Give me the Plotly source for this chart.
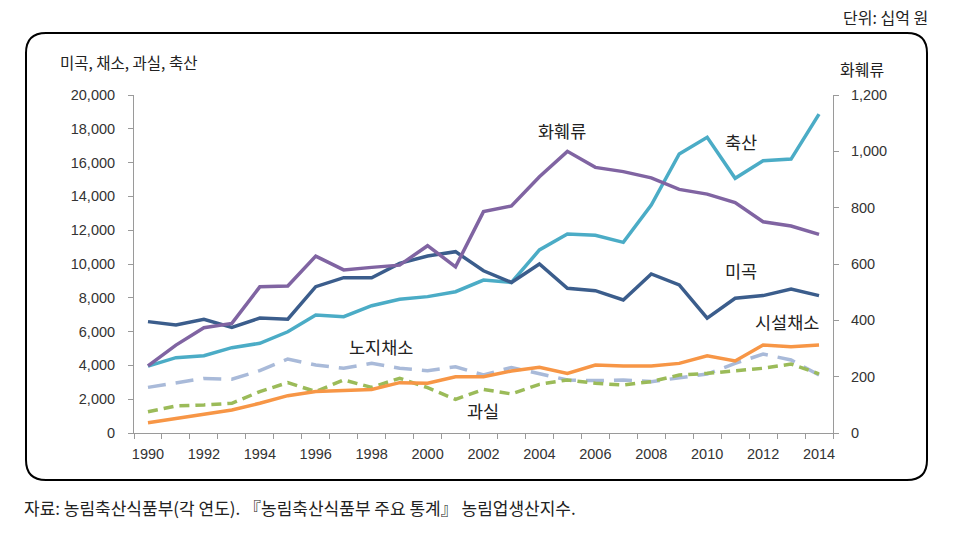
import plotly.graph_objects as go

years = list(range(1990, 2015))
rice = [6590, 6390, 6730, 6250, 6800, 6730, 8660, 9190, 9190, 10040, 10470, 10730, 9600, 8910,
        10000, 8560, 8420, 7870, 9410, 8760, 6790, 7970, 8130, 8520, 8130]
livestock = [3960, 4460, 4570, 5050, 5310, 5990, 6980, 6880, 7530, 7910, 8070, 8360, 9050, 8910,
             10830, 11780, 11700, 11280, 13490, 16510, 17500, 15070, 16110, 16210, 18870]
flowers = [238, 312, 374, 389, 519, 522, 628, 579, 588, 596, 665, 590, 786, 806,
           910, 1000, 943, 928, 906, 865, 848, 818, 750, 735, 705]
open_veg = [2700, 2940, 3230, 3180, 3690, 4380, 4020, 3830, 4120, 3830, 3690, 3920, 3430, 3880,
            3530, 3140, 3100, 3140, 3040, 3240, 3490, 4120, 4670, 4320, 3430]
green_veg = [610, 870, 1100, 1360, 1760, 2210, 2450, 2540, 2580, 2980, 2940, 3330, 3330, 3670,
             3890, 3530, 4020, 3960, 3960, 4120, 4570, 4260, 5210, 5110, 5210]
fruit = [1260, 1600, 1660, 1760, 2450, 2980, 2450, 3140, 2700, 3240, 2680, 1990, 2580, 2310,
         2880, 3140, 2940, 2840, 3040, 3430, 3530, 3690, 3830, 4080, 3500]

left_ticks = list(range(0, 20001, 2000))
right_ticks = list(range(0, 1201, 200))
x_labels = list(range(1990, 2015, 2))

font = "Noto Sans CJK KR"
num_font = dict(family="Liberation Sans", size=14.5, color="#333333")
fig = go.Figure()

def add(y, color, dash="solid", axis="y"):
    fig.add_trace(go.Scatter(x=years, y=y, mode="lines", yaxis=axis,
                             line=dict(color=color, width=3.5, dash=dash), showlegend=False))

add(open_veg, "#A9BAD9", dash="18px,10px")
add(fruit, "#9BBB59", dash="10px,6px")
add(green_veg, "#F79646")
add(livestock, "#4BACC6")
add(rice, "#3B5D8C")
add(flowers, "#8064A2", axis="y2")

L, R, T, B = 134, 833, 95, 433
W, H = 968, 546

fig.update_layout(
    width=W, height=H,
    margin=dict(l=L, r=W - R, t=T, b=H - B),
    paper_bgcolor="white", plot_bgcolor="white",
    font=dict(family=font, size=13, color="#333333"),
    xaxis=dict(range=[1989.5, 2014.5], tickvals=x_labels, ticktext=[str(v) for v in x_labels],
               ticks="", showgrid=False, showline=True, linecolor="#9a9a9a", linewidth=1,
               zeroline=False, tickfont=num_font, ticklabelstandoff=8,
               minor=dict(tickvals=[1989.5 + i for i in range(26)], ticks="outside",
                          ticklen=5, tickcolor="#9a9a9a", showgrid=False)),
    yaxis=dict(range=[0, 20000], tickvals=left_ticks, tickformat=",", ticks="outside",
               ticklen=5, tickcolor="#9a9a9a", showgrid=False, showline=True,
               linecolor="#9a9a9a", zeroline=False, tickfont=num_font, ticklabelstandoff=10),
    yaxis2=dict(range=[0, 1200], tickvals=right_ticks, tickformat=",", overlaying="y",
                side="right", ticks="outside", ticklen=5, tickcolor="#9a9a9a", showgrid=False,
                showline=True, linecolor="#9a9a9a", zeroline=False,
                tickfont=num_font, ticklabelstandoff=9),
)

def px(x):
    return (x - L) / (R - L)

def py(y):
    return (B - y) / (B - T)

# rounded border box
x0, x1, y0, y1, r = 26, 927, 33, 480, 20
pts = [
    f"M {px(x0 + r)},{py(y0)}",
    f"L {px(x1 - r)},{py(y0)}",
    f"Q {px(x1)},{py(y0)} {px(x1)},{py(y0 + r)}",
    f"L {px(x1)},{py(y1 - r)}",
    f"Q {px(x1)},{py(y1)} {px(x1 - r)},{py(y1)}",
    f"L {px(x0 + r)},{py(y1)}",
    f"Q {px(x0)},{py(y1)} {px(x0)},{py(y1 - r)}",
    f"L {px(x0)},{py(y0 + r)}",
    f"Q {px(x0)},{py(y0)} {px(x0 + r)},{py(y0)} Z",
]
fig.add_shape(type="path", xref="paper", yref="paper", path=" ".join(pts),
              line=dict(color="black", width=2), layer="below")

def text(x, y, s, size=14, anchor="center"):
    fig.add_annotation(x=px(x), y=py(y), xref="paper", yref="paper", text=s, showarrow=False,
                       xanchor=anchor, yanchor="middle", font=dict(family=font, size=size, color="#222222"))

text(930, 17, "단위: 십억 원", size=16, anchor="right")
text(58, 62, "미곡, 채소, 과실, 축산", size=15.5, anchor="left")
text(862, 69, "화훼류", size=16)
text(562, 130, "화훼류", size=17.5)
text(741, 141, "축산", size=17.5)
text(741, 270, "미곡", size=17.5)
text(787, 321, "시설채소", size=17.5)
text(381, 346, "노지채소", size=17.5)
text(483, 410, "과실", size=17.5)
text(22, 508, "자료: 농림축산식품부(각 연도). 『농림축산식품부 주요 통계』 농림업생산지수.", size=17, anchor="left")

fig.write_html("out.html")
